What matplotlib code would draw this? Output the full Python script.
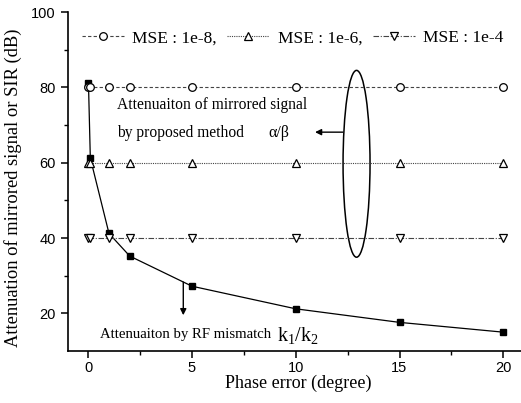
import matplotlib
matplotlib.use("Agg")
import matplotlib.pyplot as plt
from matplotlib.patches import Ellipse
from matplotlib.lines import Line2D

plt.rcParams["mathtext.fontset"] = "custom"
plt.rcParams["mathtext.rm"] = "Liberation Serif"
plt.rcParams["mathtext.it"] = "Liberation Serif:italic"

# ---- data ----
phase_error = [0.01, 0.1, 1, 2, 5, 10, 15, 20]
rf_mismatch = [81.2, 61.2, 41.2, 35.2, 27.2, 21.2, 17.6, 15.0]
mse_1e8 = [80, 80, 80, 80, 80, 80, 80, 80]
mse_1e6 = [60, 60, 60, 60, 60, 60, 60, 60]
mse_1e4 = [40, 40, 40, 40, 40, 40, 40, 40]
legend_labels = ["MSE : 1e-8,", "MSE : 1e-6,", "MSE : 1e-4"]
x_ticks = [0, 5, 10, 15, 20]
y_ticks = [20, 40, 60, 80, 100]

serif = "Liberation Serif"
sans = "Liberation Sans"

fig = plt.figure(figsize=(5.21, 4.03), dpi=100)
W, H = 521, 403
x0_px = 67.5
x1_px = 67.5 + 22 * 20.75
ax = fig.add_axes([x0_px / W, (H - 351) / H, (x1_px - x0_px) / W, (351 - 12) / H])
ax.set_xlim(-1, 21)
ax.set_ylim(10, 100)

gray = "#444444"
styles = [
    dict(linestyle=(0, (3, 2)), marker="o"),
    dict(linestyle=(0, (1, 1)), marker="^"),
    dict(linestyle=(0, (5, 1.5, 1, 1.5)), marker="v"),
]
common = dict(color=gray, lw=0.8, ms=5.5, mfc="white", mec="black", mew=0.9)
for ys, st in zip([mse_1e8, mse_1e6, mse_1e4], styles):
    ax.plot(phase_error, ys, zorder=3, **st, **common)
ax.plot(phase_error, rf_mismatch, linestyle="-", color="black", lw=0.9,
        marker="s", ms=5, mfc="black", mec="black", zorder=2)

handles = [Line2D([], [], **st, **common) for st in styles]
ax.legend(handles, legend_labels, ncol=3, frameon=False, loc="center left",
          bbox_to_anchor=(0.032, 0.923), handlelength=2.4, handletextpad=0.5,
          columnspacing=0.6, borderaxespad=0, borderpad=0,
          prop={"family": serif, "size": 12.5})

for s in ["top", "right"]:
    ax.spines[s].set_visible(False)
ax.spines["left"].set_linewidth(1.2)
ax.spines["bottom"].set_linewidth(1.2)
ax.set_xticks(x_ticks)
ax.set_yticks(y_ticks)
ax.set_xticks([2.5, 7.5, 12.5, 17.5], minor=True)
ax.set_yticks([30, 50, 70, 90], minor=True)
ax.tick_params(which="major", direction="out", length=5, width=1.1, labelsize=10.5)
ax.tick_params(axis="x", which="major", pad=2.5)
ax.tick_params(which="minor", direction="out", length=3, width=1.0)
for lab in ax.get_xticklabels() + ax.get_yticklabels():
    lab.set_fontfamily(sans)

ax.set_xlabel("Phase error (degree)", fontfamily=serif, fontsize=13)
ax.set_ylabel("Attenuation of mirrored signal or SIR (dB)", fontfamily=serif,
              fontsize=13.3)
ax.xaxis.set_label_coords((298 - x0_px) / (x1_px - x0_px), -(383 - 351) / 339)
ax.yaxis.set_label_coords(-(x0_px - 13) / (x1_px - x0_px), (351 - 188) / 339)
ax.xaxis.label.set_va("center")
ax.yaxis.label.set_va("center")

# annotations
ax.text(1.38, 75.3, "Attenuaiton of mirrored signal", fontfamily=serif, fontsize=11.2,
        va="center", ha="left")
ax.text(1.38, 67.8, "by proposed method", fontfamily=serif, fontsize=11.2,
        va="center", ha="left")
ax.text(8.7, 67.8, "α/β", fontfamily=serif, fontsize=11.5, va="center", ha="left")
ax.annotate("", xy=(10.93, 68.1), xytext=(12.27, 68.1),
            arrowprops=dict(arrowstyle="-|>", color="black", lw=1.0,
                            mutation_scale=9, shrinkA=0, shrinkB=0))
ax.add_patch(Ellipse((12.93, 59.7), 1.3, 49.6, fill=False, edgecolor="black", lw=1.1))

ax.text(0.55, 14.3, "Attenuaiton by RF mismatch", fontfamily=serif,
        fontsize=10.6, va="center", ha="left")
ax.text(9.1, 14.0, r"$\mathrm{k}_1/\mathrm{k}_2$", fontfamily=serif,
        fontsize=14.5, va="center", ha="left")
ax.annotate("", xy=(4.58, 19.5), xytext=(4.58, 28.3),
            arrowprops=dict(arrowstyle="-|>", color="black", lw=1.0,
                            mutation_scale=9, shrinkA=0, shrinkB=0))

fig.savefig("out.png", dpi=100)
